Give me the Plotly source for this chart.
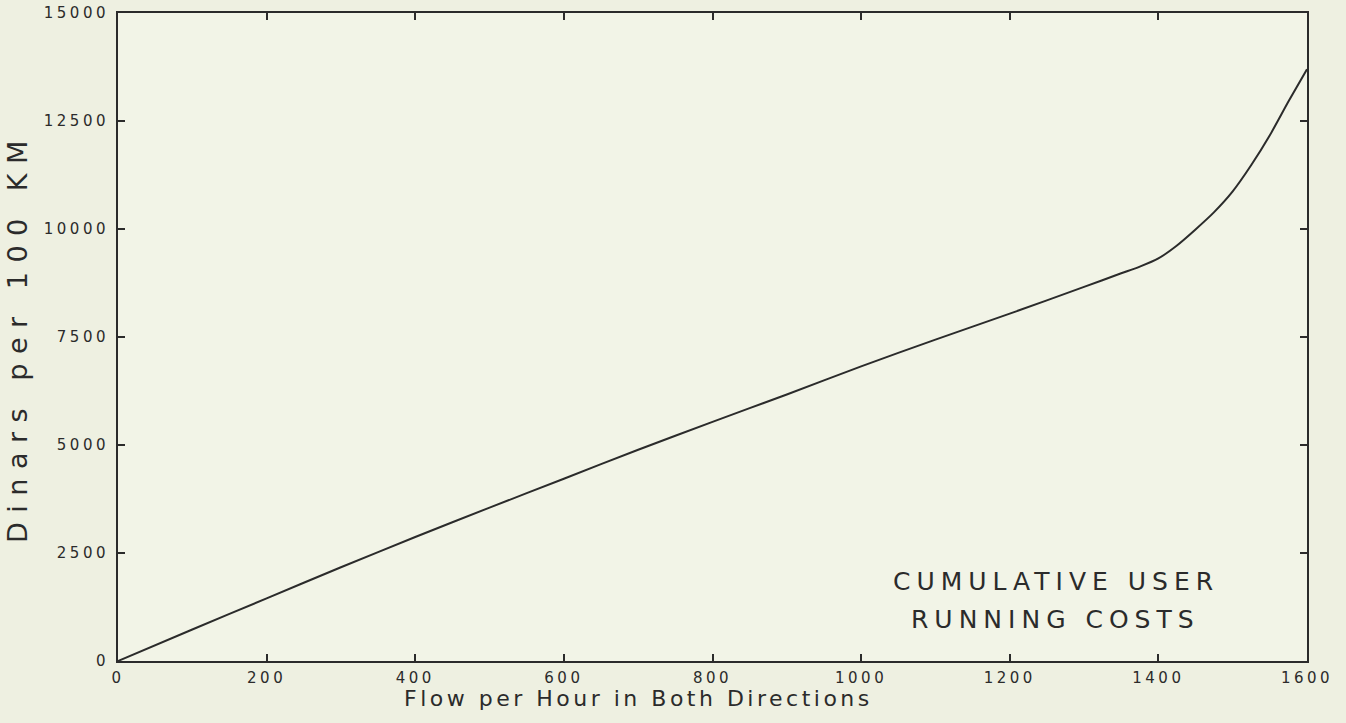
import plotly.graph_objects as go

# Data
flow = [0, 100, 200, 300, 400, 500, 600, 700, 800, 900, 1000, 1100, 1200, 1300,
        1350, 1375, 1400, 1425, 1450, 1475, 1500, 1525, 1550, 1575, 1600]
cost = [0, 730, 1450, 2170, 2870, 3550, 4220, 4890, 5535, 6170, 6820, 7440, 8040, 8660,
        8975, 9130, 9320, 9620, 9990, 10390, 10870, 11480, 12170, 12950, 13700]

x_ticks = [0, 200, 400, 600, 800, 1000, 1200, 1400, 1600]
y_ticks = [0, 2500, 5000, 7500, 10000, 12500, 15000]

x_title = "Flow per Hour in Both Directions"
y_title = "Dinars per 100 KM"
note_lines = ["CUMULATIVE USER", "RUNNING COSTS"]
note_y = [1830, 950]

ink = "#2b2b2b"
font_family = "DejaVu Sans"


def spaced(text, px):
    return f'<span style="letter-spacing:{px}px">{text}</span>'


fig = go.Figure()
fig.add_trace(go.Scatter(
    x=flow, y=cost, mode="lines",
    line=dict(color=ink, width=2, shape="spline", smoothing=0.6),
    showlegend=False, hoverinfo="skip",
))

for line_text, yv in zip(note_lines, note_y):
    fig.add_annotation(
        x=1262, y=yv, xref="x", yref="y",
        text=spaced(line_text, 6), showarrow=False, align="center",
        font=dict(family=font_family, size=25, color=ink),
    )

fig.add_annotation(
    x=0.438, y=-0.058, xref="paper", yref="paper",
    text=spaced(x_title, 3.5), showarrow=False,
    xanchor="center", yanchor="middle",
    font=dict(family=font_family, size=22, color=ink),
)

fig.add_annotation(
    x=-0.085, y=0.5, xref="paper", yref="paper",
    text=spaced(y_title, 9.5), showarrow=False, textangle=-90,
    xanchor="center", yanchor="middle",
    font=dict(family=font_family, size=27, color=ink),
)

axis_common = dict(
    showline=True, linecolor=ink, linewidth=2, mirror="ticks",
    ticks="inside", ticklen=7, tickwidth=1.5, tickcolor=ink,
    showgrid=False, zeroline=False,
    tickfont=dict(family=font_family, size=15, color=ink),
)

fig.update_xaxes(
    range=[0, 1600], tickvals=x_ticks,
    ticktext=[spaced(str(v), 3.5) for v in x_ticks],
    ticklabelstandoff=2,
    **axis_common,
)
fig.update_yaxes(
    range=[0, 15000], tickvals=y_ticks,
    ticktext=[spaced(str(v), 3.5) for v in y_ticks],
    ticklabelstandoff=4,
    **axis_common,
)

fig.update_layout(
    width=1346, height=723,
    margin=dict(l=118, r=39, t=13, b=62, autoexpand=False),
    paper_bgcolor="#eef0e1",
    plot_bgcolor="#f2f4e7",
)

fig.write_html(
    "out.html",
    config={"displayModeBar": False},
    post_script="document.body.style.margin='0';document.body.style.overflow='hidden';",
)
